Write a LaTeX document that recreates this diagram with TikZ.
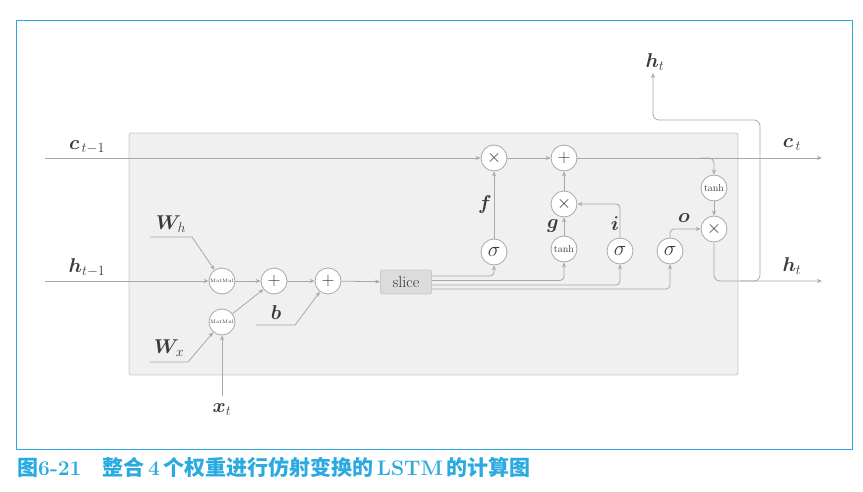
\RequirePackage{fix-cm}
\documentclass[tikz,border=0pt]{standalone}
\usepackage{amsmath,bm}
\usepackage{fontspec}
\newfontfamily\cjk{Noto Sans CJK SC}
\usetikzlibrary{arrows.meta,calc}
\definecolor{ln}{HTML}{A8A8A8}
\definecolor{txt}{HTML}{3A3A3A}
\definecolor{frameblue}{HTML}{2AAAE0}
\definecolor{boxfill}{HTML}{F0F0F0}
\definecolor{boxline}{HTML}{C8C8C8}
\definecolor{slfill}{HTML}{DCDCDC}
\tikzset{
  arr/.style={draw=ln, line width=0.8pt, -{Stealth[length=5pt,width=4pt]}},
  op/.style={circle, draw=ln, fill=white, line width=0.8pt, minimum size=26pt, inner sep=0pt, text=txt},
  lab/.style={text=txt, font=\fontsize{20}{22}\selectfont, inner sep=0pt},
  big/.style={font=\fontsize{18}{20}\selectfont},
  sig/.style={font=\fontsize{21}{22}\selectfont},
  small/.style={font=\fontsize{10}{11}\selectfont},
  tiny/.style={font=\fontsize{5}{6}\selectfont},
}
\begin{document}
\begin{tikzpicture}[x=1pt,y=-1pt]
\useasboundingbox (0,0) rectangle (863,492);
\draw[frameblue, line width=0.8pt] (16,20) rectangle (852,449);
\draw[boxline, fill=boxfill, line width=0.8pt, rounded corners=2pt] (129,133) rectangle (738,375);

% nodes
\node[op, tiny] (mh) at (222,281) {MatMul};
\node[op, tiny] (mx) at (222,322) {MatMul};
\node[op, big] (p1) at (274,281) {$+$};
\node[op, big] (p2) at (328,281) {$+$};
\node[draw=boxline, fill=slfill, rounded corners=2pt, line width=0.8pt, minimum width=51pt, minimum height=24pt, inner sep=0pt, text=black!80, font=\fontsize{16}{18}\selectfont] (sl) at (406,282) {slice};
\node[op, sig] (sf) at (494,252) {$\sigma$};
\node[op, big] (mf) at (494,158) {$\times$};
\node[op, big] (pc) at (564,158) {$+$};
\node[op, big] (mg) at (564,204) {$\times$};
\node[op, small] (tg) at (564,249) {tanh};
\node[op, sig] (si) at (620,251) {$\sigma$};
\node[op, sig] (so) at (670,251) {$\sigma$};
\node[op, small] (tc) at (714,188) {tanh};
\node[op, big] (mo) at (714,229) {$\times$};

% labels
\node[lab] (lc0) at (87,147) {$\bm{c}_{\,t-1}$};
\node[lab] (lh0) at (87,268) {$\bm{h}_{t-1}$};
\node[lab] (lct) at (792,145) {$\bm{c}_{\,t}$};
\node[lab] (lht) at (792,266) {$\bm{h}_{t}$};
\node[lab] (lhtop) at (655,62) {$\bm{h}_{t}$};
\node[lab] (lwh) at (171,224) {$\bm{W}_{h}$};
\node[lab] (lwx) at (169,348) {$\bm{W}_{x}$};
\node[lab] (lb) at (276,313) {$\bm{b}$};
\node[lab] (lxt) at (222,410) {$\bm{x}_{t}$};
\node[lab] (lf) at (485,205) {$\bm{f}$};
\node[lab] (lg) at (553,226) {$\bm{g}$};
\node[lab] (li) at (615,224) {$\bm{i}$};
\node[lab] (lo) at (684,218) {$\bm{o}$};

% coordinates
\coordinate (cin) at (45,158);
\coordinate (cout) at (822,158);
\coordinate (cb) at (700,158);
\coordinate (hin) at (45,281);
\coordinate (hout) at (822,281);
\coordinate (hb) at (740,281);
\coordinate (hup) at (760,120);
\coordinate (htop) at (653,73);
\coordinate (wh1) at (150,237);
\coordinate (wh2) at (192,237);
\coordinate (wx1) at (150,362);
\coordinate (wx2) at (188,362);
\coordinate (b1) at (256,325);
\coordinate (b2) at (295,325);
\coordinate (xt) at (222,396);
\coordinate (s1) at (432,276);
\coordinate (s2) at (432,280.5);
\coordinate (s3) at (432,285);
\coordinate (s4) at (432,289);

% connectors
\draw[arr] (cin) -- (mf);
\draw[arr] (mf) -- (pc);
\draw[arr] (pc) -- (cout);
\draw[arr, rounded corners=5pt] (cb) -| (tc.north);
\draw[arr] (tc) -- (mo);
\draw[arr, rounded corners=6pt] (mo.south) |- (hout);
\draw[arr, rounded corners=6pt] (hb) -| (hup) -| (htop);
\draw[arr] (hin) -- (mh);
\draw[arr] (wh1) -- (wh2) -- (mh);
\draw[arr] (wx1) -- (wx2) -- (mx);
\draw[arr] (b1) -- (b2) -- (p2);
\draw[arr] (xt) -- (mx);
\draw[arr] (mh) -- (p1);
\draw[arr] (mx) -- (p1);
\draw[arr] (p1) -- (p2);
\draw[arr] (p2) -- (sl);
\draw[arr, rounded corners=4pt] (s1) -| (sf.south);
\draw[arr, rounded corners=4pt] (s2) -| (tg.south);
\draw[arr, rounded corners=4pt] (s3) -| (si.south);
\draw[arr, rounded corners=4pt] (s4) -| (so.south);
\draw[arr] (sf) -- (mf);
\draw[arr] (tg) -- (mg);
\draw[arr] (mg) -- (pc);
\draw[arr, rounded corners=4pt] (si.north) |- (mg.east);
\draw[arr, rounded corners=4pt] (so.north) |- (mo.west);

% caption
\node[anchor=west, inner sep=0pt, text=frameblue, font=\fontsize{21}{23}\selectfont] (cap) at (17,467)
  {{\cjk\bfseries 图}\textbf{6-21}\hspace{1em}{\cjk\bfseries 整合}\,\textbf{4}\,{\cjk\bfseries 个权重进行仿射变换的}\,\textbf{LSTM}\,{\cjk\bfseries 的计算图}};
\end{tikzpicture}
\end{document}
